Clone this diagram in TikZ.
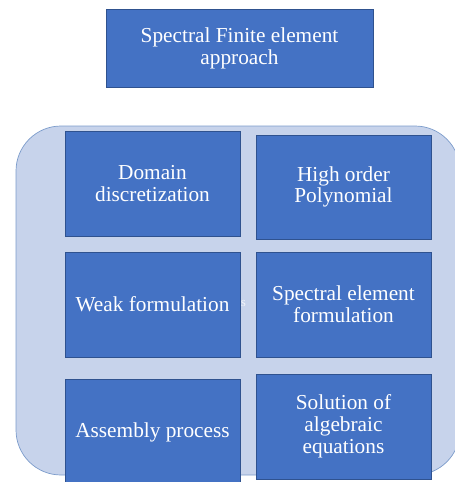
\documentclass[tikz,border=0pt]{standalone}
\usepackage{fontspec}
\setmainfont{Liberation Serif}
\definecolor{boxblue}{HTML}{4472C4}
\definecolor{boxedge}{HTML}{2F528F}
\definecolor{panelfill}{HTML}{C7D3EB}
\definecolor{paneledge}{HTML}{7C9CCB}
\begin{document}
\begin{tikzpicture}[x=1pt,y=-1pt,
  bluebox/.style={draw=boxedge, line width=0.6pt, fill=boxblue, text=white,
    align=center, font=\fontsize{21.3}{21.8}\selectfont, inner sep=0pt},
]
\useasboundingbox (0,0) rectangle (455,482);
\clip (0,0) rectangle (455,482);
% panel
\draw[draw=paneledge, fill=panelfill, line width=0.7pt, rounded corners=45pt]
  (16,126) rectangle (460,475);
% title box
\node[bluebox, minimum width=267pt, minimum height=78pt] (title) at (239.5,48) {Spectral Finite element\\approach};
% grid boxes
\node[bluebox, minimum width=175pt, minimum height=105pt] (dom) at (152.5,183.5) {Domain\\discretization};
\node[bluebox, minimum width=175pt, minimum height=104pt] (hop) at (343.5,187) {High order\\Polynomial};
\node[bluebox, minimum width=175pt, minimum height=105pt] (weak) at (152.5,304.5) {Weak formulation};
\node[bluebox, minimum width=175pt, minimum height=105pt] (sef) at (343.5,304.5) {Spectral element\\formulation};
\node[bluebox, minimum width=175pt, minimum height=106pt] (asm) at (152.5,432) {Assembly process};
\node[bluebox, minimum width=175pt, minimum height=105pt] (sol) at (343.5,426.5) {Solution of\\algebraic\\equations};
\node[text=white, opacity=0.75, font=\fontsize{13}{13}\selectfont, inner sep=0pt] (ghost) at (243.5,303) {s};
\end{tikzpicture}
\end{document}
